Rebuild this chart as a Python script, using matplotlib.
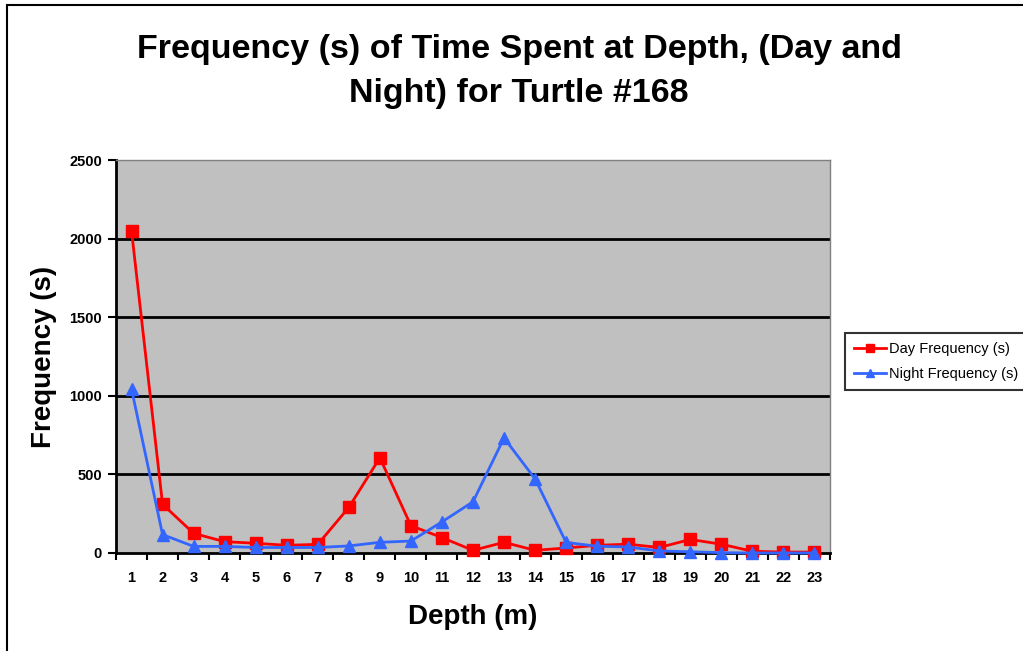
import matplotlib
matplotlib.use("Agg")
import matplotlib.pyplot as plt
from matplotlib.patches import Rectangle

plt.rcParams['font.family'] = ['Liberation Sans', 'DejaVu Sans']

depths = list(range(1, 24))
day_freq = [2050, 310, 125, 72, 62, 49, 55, 290, 606, 174, 98, 17, 68, 17, 32, 49, 56, 35, 86, 56, 11, 6, 6]
night_freq = [1043, 117, 42, 42, 35, 35, 35, 45, 68, 76, 198, 326, 732, 471, 67, 43, 38, 13, 8, 2, 0, 0, 0]
yticks = [0, 500, 1000, 1500, 2000, 2500]

fig = plt.figure(figsize=(10.23, 6.51), dpi=100)
fig.patch.set_facecolor('white')
fig.patches.append(Rectangle((7/1023, -0.2), 1.5, 1.2 - 5/651, transform=fig.transFigure,
                             fill=False, edgecolor='black', lw=1.5, clip_on=False))

ax = fig.add_axes([116/1023, 1 - 553/651, (830-116)/1023, (553-160)/651])
ax.set_facecolor('#C0C0C0')

ax.plot(depths, day_freq, color='#FF0000', lw=2, marker='s', ms=8, label='Day Frequency (s)', zorder=3, clip_on=False)
ax.plot(depths, night_freq, color='#3366FF', lw=2, marker='^', ms=8, label='Night Frequency (s)', zorder=3, clip_on=False)

ax.set_xlim(0.5, 23.5)
ax.set_ylim(0, 2500)
ax.set_yticks(yticks)
ax.set_yticklabels([str(v) for v in yticks], fontsize=10.5, fontweight='bold')
ax.set_xticks(depths)
ax.set_xticklabels([str(d) for d in depths], fontsize=10.5, fontweight='bold')
ax.set_xticks([d + 0.5 for d in [0] + depths], minor=True)
ax.tick_params(axis='x', which='major', length=0, pad=13)
ax.tick_params(axis='x', which='minor', length=5, width=1.5, direction='out')
ax.tick_params(axis='y', which='major', length=6, width=1.5, direction='out', pad=4)
for v in yticks[1:-1]:
    ax.axhline(v, color='black', lw=2, zorder=1)
for s in ['left', 'bottom']:
    ax.spines[s].set_linewidth(2)
    ax.spines[s].set_color('black')
for s in ['top', 'right']:
    ax.spines[s].set_linewidth(1)
    ax.spines[s].set_color('#808080')

ax.set_xlabel('Depth (m)', fontsize=20, fontweight='bold', labelpad=14)
ax.set_ylabel('Frequency (s)', fontsize=20, fontweight='bold', labelpad=9)

fig.text(519/1023, 1 - 71.5/651, 'Frequency (s) of Time Spent at Depth, (Day and\nNight) for Turtle #168',
         ha='center', va='center', fontsize=24.5, fontweight='bold', linespacing=1.55)

leg = ax.legend(loc='upper left', bbox_to_anchor=(838/1023, 1 - 326/651), bbox_transform=fig.transFigure,
                fontsize=10.5, frameon=True, fancybox=False, edgecolor='black', handlelength=2.2,
                borderpad=0.6, labelspacing=0.75, handletextpad=0.2, markerscale=0.8)
leg.get_frame().set_linewidth(1.5)

fig.savefig('out.png', dpi=100)
